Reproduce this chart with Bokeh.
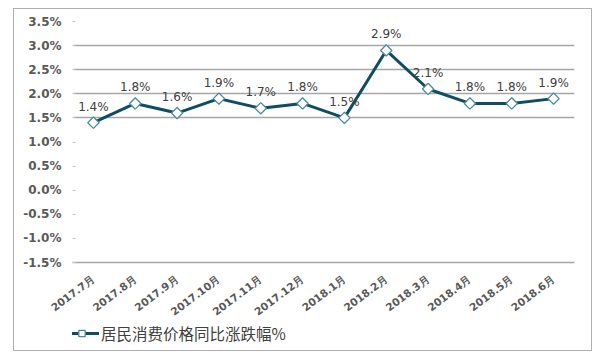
from math import pi, radians
from bokeh.plotting import figure
from bokeh.layouts import column
from bokeh.models import FixedTicker, Legend, LegendItem, ColumnDataSource, LabelSet, FactorRange, Range1d
from bokeh.core.properties import value
from bokeh.embed import file_html
from bokeh.resources import INLINE

months = ["2017.7月", "2017.8月", "2017.9月", "2017.10月", "2017.11月", "2017.12月",
          "2018.1月", "2018.2月", "2018.3月", "2018.4月", "2018.5月", "2018.6月"]
cpi = [1.4, 1.8, 1.6, 1.9, 1.7, 1.8, 1.5, 2.9, 2.1, 1.8, 1.8, 1.9]
cpi_labels = ["1.4%", "1.8%", "1.6%", "1.9%", "1.7%", "1.8%", "1.5%", "2.9%", "2.1%", "1.8%", "1.8%", "1.9%"]
y_ticks = [-1.5, -1.0, -0.5, 0.0, 0.5, 1.0, 1.5, 2.0, 2.5, 3.0, 3.5]
y_tick_labels = ["-1.5%", "-1.0%", "-0.5%", "0.0%", "0.5%", "1.0%", "1.5%", "2.0%", "2.5%", "3.0%", "3.5%"]
grid_ticks = [1.5, 2.0, 2.5, 3.0, 3.5]
series_name = "居民消费价格同比涨跌幅%"

LINE_COLOR = "#0e4d62"
MARK_COLOR = "#4e8a9b"

src = ColumnDataSource(dict(x=months, y=cpi, lbl=cpi_labels))

p = figure(x_range=FactorRange(*months, range_padding=0), y_range=Range1d(-1.5, 3.5),
           width=577, height=317, output_backend="svg", toolbar_location=None,
           min_border_left=58, min_border_right=17, min_border_top=12, min_border_bottom=64)
p.outline_line_color = None
p.background_fill_color = "white"
p.border_fill_color = "white"

# grid
p.xgrid.grid_line_color = None
p.ygrid.ticker = FixedTicker(ticks=grid_ticks)
p.ygrid.grid_line_color = "#a6a6a6"
p.ygrid.grid_line_width = 1.5

# y axis
p.yaxis.ticker = FixedTicker(ticks=y_ticks)
p.yaxis.major_label_overrides = {t: s for t, s in zip(y_ticks, y_tick_labels)}
p.yaxis.axis_line_color = None
p.yaxis.major_tick_in = 3
p.yaxis.major_tick_out = 0
p.yaxis.major_tick_line_color = "#c8c8c8"
p.yaxis.minor_tick_line_color = None
p.yaxis.major_label_standoff = 11
p.yaxis.major_label_text_font = "DejaVu Sans"
p.yaxis.major_label_text_font_size = "12px"
p.yaxis.major_label_text_font_style = "bold"
p.yaxis.major_label_text_color = "#595959"

# x axis
p.xaxis.axis_line_color = "#a6a6a6"
p.xaxis.axis_line_width = 1.5
p.xaxis.major_tick_line_color = None
p.xaxis.minor_tick_line_color = None
p.xaxis.major_label_orientation = radians(37)
p.xaxis.major_label_standoff = 9
p.xaxis.major_label_text_font = "DejaVu Sans"
p.xaxis.major_label_text_font_size = "10.5px"
p.xaxis.major_label_text_font_style = "bold"
p.xaxis.major_label_text_color = "#595959"

p.line("x", "y", source=src, line_color=LINE_COLOR, line_width=3)
p.scatter("x", "y", source=src, marker="square", angle=pi / 4, size=8,
          fill_color="white", line_color=MARK_COLOR, line_width=1.3)

labels = LabelSet(x="x", y="y", text="lbl", source=src, text_align="center",
                  text_baseline="bottom", y_offset=9, text_font=value("DejaVu Sans"),
                  text_font_size=value("12px"), text_color="#404040")
p.add_layout(labels)

# legend strip (its sample renderers sit outside the visible range)
lf = figure(width=577, height=30, output_backend="svg", toolbar_location=None,
            x_range=Range1d(0, 1), y_range=Range1d(0, 1),
            x_axis_type=None, y_axis_type=None, min_border=0)
lf.styles = {"margin-top": "-6px"}
lf.outline_line_color = None
lf.background_fill_alpha = 0
lf.border_fill_alpha = 0
offscreen = ColumnDataSource(dict(x=[5, 6], y=[5, 6]))
lr = lf.line("x", "y", source=offscreen, line_color=LINE_COLOR, line_width=3)
mr = lf.scatter("x", "y", source=offscreen, marker="square", angle=pi / 4, size=8,
                fill_color="white", line_color=MARK_COLOR, line_width=1.3)
legend = Legend(items=[LegendItem(label=series_name, renderers=[lr, mr])],
                location=(-8, 6), orientation="horizontal",
                border_line_color=None, background_fill_alpha=0,
                glyph_width=35, glyph_height=16, label_height=16,
                label_text_font="Noto Sans CJK SC", label_text_baseline="middle",
                label_text_font_size="15.5px", label_text_color="#404040",
                padding=0, margin=0, label_standoff=2)
lf.add_layout(legend, "center")

layout = column(p, lf, spacing=0,
                styles={"border": "1.5px solid #b0b0b0", "margin-left": "13px", "margin-top": "8px",
                        "background-color": "white"})

open("out.html", "w").write(file_html(layout, INLINE))
